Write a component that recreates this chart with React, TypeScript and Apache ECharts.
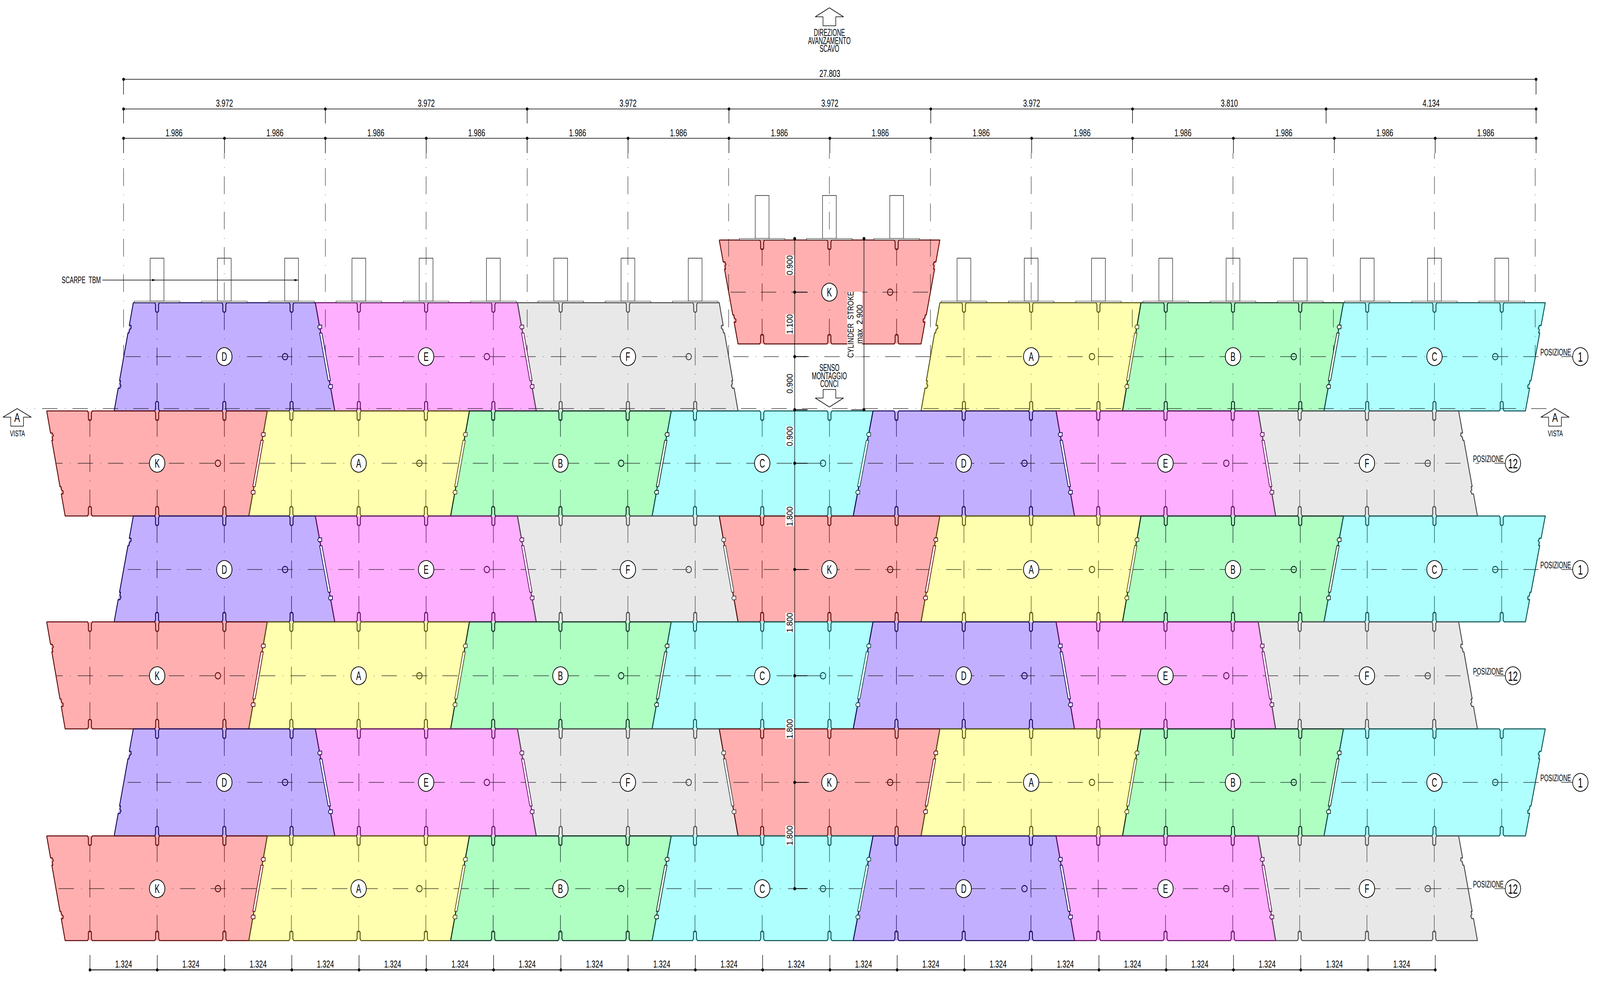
import React, { useEffect, useRef } from "react";
import * as echarts from "echarts";

const PAGE_W = 4765;
const PAGE_H = 2514;
const PX_PER_METRE = 151.3;
const DIM_ORIGIN = 368;
const BOTTOM_ORIGIN = 268;

// dimension chains (metres)
const overallDim = ["27.803"];
const segmentDims = ["3.972", "3.972", "3.972", "3.972", "3.972", "3.810", "4.134"];
const halfDims = ["1.986", "1.986", "1.986", "1.986", "1.986", "1.986", "1.986", "1.986", "1.986", "1.986", "1.986", "1.986", "1.986", "1.986"];
const bottomDims = ["1.324", "1.324", "1.324", "1.324", "1.324", "1.324", "1.324", "1.324", "1.324", "1.324", "1.324", "1.324", "1.324", "1.324", "1.324", "1.324", "1.324", "1.324", "1.324", "1.324"];

// rows of the ring stack, drawing units
const rowTops = [775, 1052, 1321, 1592, 1866, 2140];
const rowCenters = [913, 1186, 1458, 1730, 2003, 2275];
const rowBottoms = [1052, 1321, 1592, 1866, 2140, 2408];
const rowDashPhase = [668, 1069, 668, 1069, 668, 288];
const keyRaised = { top: 614.5, center: 748, bottom: 880.5 };

// segments
const posOneLetters = ["D", "E", "F", "K", "A", "B", "C"];
const posOneCenters = [668, 1269, 1870, 2470, 3071, 3672, 4272];
const posOneTopJoints = [397, 939, 1541, 2142, 2799, 3398, 4001, 4602];
const posOneBottomJoints = [340, 997, 1597, 2198, 2743, 3343, 3943, 4543];
const posTwelveLetters = ["K", "A", "B", "C", "D", "E", "F"];
const posTwelveCenters = [468, 1068, 1669, 2270, 2870, 3471, 4071];
const posTwelveTopJoints = [139, 796, 1398, 1999, 2600, 3145, 3747, 4344];
const posTwelveBottomJoints = [194, 741, 1342, 1942, 2541, 3200, 3799, 4400];
const ribOffset = 200.3;
const keyHoleOffset = 181;

const jointGuides = [368, 969, 1570, 2170, 2771, 3372, 3971, 4572];
const centreGuides = [668, 1269, 1870, 2470, 3071, 3672, 4272];
const strokeDimDots = [611, 748, 913, 1049, 1186, 1458, 1730, 2003, 2275];
const strokeLabels: [string, number][] = [
  ["0.900", 679], ["1.100", 830], ["0.900", 982], ["0.900", 1117],
  ["1.800", 1322], ["1.800", 1594], ["1.800", 1866], ["1.800", 2139],
];

const FILL: Record<string, string> = { K: "#FFAFAF", A: "#FFFFAF", B: "#AFFFC3", C: "#AFFFFF", D: "#C3AFFF", E: "#FFAFFF", F: "#E8E8E8" };
const DARK: Record<string, string> = { K: "#5E0606", A: "#4E4E00", B: "#06261A", C: "#064E4E", D: "#10065A", E: "#5E065E", F: "#444444" };
const FONT = '"Liberation Sans",Arial,sans-serif';
const DASH = [45.5, 22, 1.5, 21.5];
const PERIOD = 90.5;

type Pt = [number, number];
type Spec = any;

const mod = (a: number, b: number) => ((a % b) + b) % b;
const centreDashOffset = (start: number, mid: number) => mod(22.75 + (start - mid), PERIOD);
const dotOffset = (start: number, dot: number) => mod(67.5 + (start - dot), PERIOD);

const fills: Spec[] = [];
const lines: Spec[] = [];
const outlines: Spec[] = [];
const overlays: Spec[] = [];
const tops: Spec[] = [];

const poly = (pts: Pt[], fill: string, stroke: string, lw: number): Spec => ({ t: "polygon", pts, fill, stroke, lw });
const pline = (pts: Pt[], stroke: string, lw: number, dash?: number[], offset?: number): Spec => ({ t: "polyline", pts, stroke, lw, dash, offset });
const circle = (c: Pt, r: number, fill: string, stroke: string, lw: number): Spec => ({ t: "circle", c, r, fill, stroke, lw });
const text = (at: Pt, s: string, size: number, o: any = {}): Spec => ({ t: "text", at, s, size, ...o });

function topNotch(r: number, y: number, d = 1): Pt[] {
  return [[r - 7, y], [r - 4.5, y + 5 * d], [r - 4.5, y + 21 * d], [r - 2.5, y + 24 * d], [r + 2.5, y + 24 * d], [r + 4.5, y + 21 * d], [r + 4.5, y + 5 * d], [r + 7, y]];
}

function sidePoints(xt: number, xb: number, yt: number, yb: number, s: number): Pt[] {
  const P = (t: number, o = 0): Pt => [xt + (xb - xt) * t + s * o, yt + (yb - yt) * t];
  return [P(0.21), P(0.21, 5), P(0.235, 7), P(0.25, 3), P(0.28, 3), P(0.28), P(0.72), P(0.72, 3), P(0.75, 3), P(0.765, 7), P(0.79, 5), P(0.79)];
}

function addSegment(letter: string, cx: number, y: { top: number; center: number; bottom: number }, tl: number, tr: number, bl: number, br: number, leftOuter: boolean, rightOuter: boolean, rightJoint: boolean) {
  const dark = DARK[letter];
  const ribs = [cx - ribOffset, cx, cx + ribOffset];
  fills.push(poly([[tl, y.top], [tr, y.top], [br, y.bottom], [bl, y.bottom]], FILL[letter], "none", 0));
  ribs.forEach((r) => lines.push(pline([[r, y.top + 20], [r, y.bottom - 20]], dark, 1.5, DASH, centreDashOffset(y.top + 20, y.center))));
  const pts: Pt[] = [[tl, y.top]];
  ribs.forEach((r) => pts.push(...topNotch(r, y.top)));
  pts.push([tr, y.top]);
  if (rightOuter) pts.push(...sidePoints(tr, br, y.top, y.bottom, -1));
  pts.push([br, y.bottom]);
  [...ribs].reverse().forEach((r) => pts.push(...topNotch(r, y.bottom, -1).reverse()));
  pts.push([bl, y.bottom]);
  if (leftOuter) pts.push(...sidePoints(tl, bl, y.top, y.bottom, 1).reverse());
  pts.push([tl, y.top]);
  outlines.push(pline(pts, dark, 2.6));
  if (rightJoint) {
    const P = (t: number, o = 0): Pt => [tr + (br - tr) * t + o, y.top + (y.bottom - y.top) * t];
    overlays.push(poly([P(0.28, -3.5), P(0.28, 3.5), P(0.72, 3.5), P(0.72, -3.5)], "#FFFFFF", dark, 2));
    [0.225, 0.775].forEach((t) => {
      const c = P(t);
      overlays.push(poly([[c[0] - 6, c[1]], [c[0] - 3, c[1] - 5], [c[0] + 6, c[1] - 5], [c[0] + 6, c[1] + 4], [c[0] - 3, c[1] + 5]], "#FFFFFF", dark, 2));
    });
  }
  tops.push(circle([cx, y.center], 23, "#FFFFFF", "#000000", 2.2));
  tops.push(text([cx, y.center], letter, 31, { sx: 0.72 }));
  overlays.push(circle([cx + keyHoleOffset, y.center], 8, "none", dark, 2.4));
}

function hline(y: number, from: number, to: number, phase: number) {
  const off = mod(22.75 + (from - phase), PERIOD);
  lines.push(pline([[from, y], [to, y]], "rgba(0,0,0,0.78)", 1.5, DASH, off));
}

function vGuide(x: number, yEnd: number, dotY: number) {
  lines.push(pline([[x, 392], [x, yEnd]], "rgba(0,0,0,0.8)", 1.4, DASH, dotOffset(392, dotY)));
}

function arrow(apex: Pt, dir: number, fill = "#FFFFFF") {
  const [x, y] = apex;
  overlays.push(poly([[x, y], [x + 42, y + dir * 23], [x + 19, y + dir * 23], [x + 19, y + dir * 46], [x - 19, y + dir * 46], [x - 19, y + dir * 23], [x - 42, y + dir * 23]], fill, "#000000", 1.6));
}

function buildDrawing() {
  rowCenters.forEach((yc, i) => {
    const y = { top: rowTops[i], center: yc, bottom: rowBottoms[i] };
    const posOne = i % 2 === 0;
    const letters = posOne ? posOneLetters : posTwelveLetters;
    const centers = posOne ? posOneCenters : posTwelveCenters;
    const T = posOne ? posOneTopJoints : posTwelveTopJoints;
    const B = posOne ? posOneBottomJoints : posTwelveBottomJoints;
    letters.forEach((l, k) => {
      const raisedKey = i === 0 && l === "K";
      const segY = raisedKey ? keyRaised : y;
      const leftOuter = k === 0 || raisedKey || (i === 0 && letters[k - 1] === "K");
      const rightOuter = k === 6 || raisedKey || (i === 0 && letters[k + 1] === "K");
      addSegment(l, centers[k], segY, T[k], T[k + 1], B[k], B[k + 1], leftOuter, rightOuter, !rightOuter);
    });
    if (posOne) {
      hline(yc, i === 0 ? DIM_ORIGIN : 380, 4606, rowDashPhase[i]);
      lines.push(pline([[4650, yc], [4684, yc]], "#000000", 1.3));
      tops.push(text([4633, yc - 11], "POSIZIONE", 23, { sx: 0.73 }));
      tops.push(circle([4706.5, yc], 23, "#FFFFFF", "#000000", 2));
      tops.push(text([4706.5, yc], "1", 35, { sx: 0.74 }));
    } else {
      hline(yc, 168, 4405, rowDashPhase[i]);
      lines.push(pline([[4451, yc], [4483, yc]], "#000000", 1.3));
      tops.push(text([4432.5, yc - 11], "POSIZIONE", 23, { sx: 0.73 }));
      tops.push(circle([4505.7, yc], 23, "#FFFFFF", "#000000", 2));
      tops.push(text([4505.7, yc], "12", 35, { sx: 0.74 }));
    }
  });
  hline(keyRaised.center, 2170, 2771, 2470);

  // section line A-A
  hline(1046, 80, 4632, 4040);

  // thrust shoes
  const shoeRibs = posOneCenters.flatMap((c) => [c - ribOffset, c, c + ribOffset]);
  shoeRibs.forEach((r, idx) => {
    const isKey = idx >= 9 && idx < 12;
    const yBase = isKey ? keyRaised.top : rowTops[0];
    overlays.push(poly([[r - 20.5, yBase - 114], [r + 20.5, yBase - 114], [r + 20.5, yBase - 4], [r - 20.5, yBase - 4]], "none", "#1a1a1a", 1.4));
    overlays.push(poly([[r - 68, yBase - 4], [r + 68, yBase - 4], [r + 68, yBase - 0.5], [r - 68, yBase - 0.5]], "#FFFFFF", "#1a1a1a", 1.2));
  });

  jointGuides.forEach((x) => vGuide(x, 913, 407.6));
  centreGuides.forEach((x) => vGuide(x, x === 2470 ? 612 : 772, 428.6));

  const dimY = [203, 279, 354];
  const extEnd = [242, 316, 392];
  const chain = (labels: string[], level: number, labelY: number) => {
    let cur = DIM_ORIGIN;
    const nodes = [cur];
    labels.forEach((v) => {
      const next = cur + parseFloat(v) * PX_PER_METRE;
      tops.push(text([(cur + next) / 2, labelY], v, 26, { sx: 0.78 }));
      cur = next;
      nodes.push(cur);
    });
    overlays.push(pline([[nodes[0], dimY[level]], [cur, dimY[level]]], "#000000", 1.6));
    nodes.forEach((x) => {
      overlays.push(pline([[x, dimY[level]], [x, extEnd[level]]], "#000000", 1.6));
      overlays.push(circle([x, dimY[level]], 4, "#000000", "none", 0));
    });
  };
  chain(overallDim, 0, 188);
  chain(segmentDims, 1, 264);
  chain(halfDims, 2, 340);

  let bx = BOTTOM_ORIGIN;
  const bottomNodes = [bx];
  bottomDims.forEach((v) => {
    const next = bx + parseFloat(v) * PX_PER_METRE;
    tops.push(text([(bx + next) / 2, 2468], v, 26, { sx: 0.78 }));
    bx = next;
    bottomNodes.push(bx);
  });
  overlays.push(pline([[BOTTOM_ORIGIN, 2483], [bx, 2483]], "#000000", 1.8));
  bottomNodes.forEach((x) => {
    overlays.push(pline([[x, 2445], [x, 2483]], "#000000", 1.5));
    overlays.push(circle([x, 2483], 4, "#000000", "none", 0));
  });

  overlays.push(pline([[2366.7, 611], [2366.7, 2275]], "rgba(0,0,0,0.78)", 2));
  strokeDimDots.forEach((y) => {
    overlays.push(circle([2366.7, y], 4.2, "#000000", "none", 0));
    if (y !== 611) overlays.push(pline([[2366.7, y], [2405, y]], "#000000", 1.8));
  });
  strokeLabels.forEach(([v, y]) => tops.push(text([2352, y], v, 26, { rot: Math.PI / 2, bg: "#FFFFFF", sx: 0.78 })));
  overlays.push(poly([[2523, 747], [2568, 747], [2568, 913], [2523, 913]], "#FFFFFF", "none", 0));
  overlays.push(pline([[2573, 611], [2573, 1049]], "rgba(0,0,0,0.78)", 2));
  overlays.push(pline([[2535, 1049], [2573, 1049]], "#000000", 1.6));
  [611, 1049].forEach((y) => overlays.push(circle([2573, y], 4.2, "#000000", "none", 0)));
  tops.push(text([2533, 831], "CYLINDER  STROKE", 25, { rot: Math.PI / 2, sx: 0.7 }));
  tops.push(text([2560, 830], "max  2.900", 25, { rot: Math.PI / 2, sx: 0.81 }));

  arrow([2470, 20], 1);
  ["DIREZIONE", "AVANZAMENTO", "SCAVO"].forEach((s, i) => tops.push(text([2470, 83 + i * 20.4], s, 25, { sx: 0.68 })));
  ["SENSO", "MONTAGGIO", "CONCI"].forEach((s, i) => tops.push(text([2470, 941 + i * 20.4], s, 25, { sx: 0.68 })));
  overlays.push(poly([[2470, 1042], [2512, 1019], [2489, 1019], [2489, 997], [2451.5, 997], [2451.5, 1019], [2428, 1019]], "#FFFFFF", "#000000", 1.6));
  [51, 4631].forEach((x) => {
    overlays.push(poly([[x, 1046], [x + 42, 1068], [x + 19, 1068], [x + 19, 1091], [x - 19, 1091], [x - 19, 1068], [x - 42, 1068]], "#FFFFFF", "#000000", 1.6));
    tops.push(text([x, 1069], "A", 32, { sx: 0.8 }));
    tops.push(text([x + 1, 1109], "VISTA", 22, { sx: 0.72 }));
  });

  tops.push(text([242, 717], "SCARPE  TBM", 24, { sx: 0.72 }));
  overlays.push(pline([[305, 717], [888, 717]], "#000000", 1.4));
  [464, 888].forEach((x) => overlays.push(poly([[x, 717], [x - 11, 714], [x - 11, 720]], "#000000", "none", 0)));
}

buildDrawing();

function render(specs: Spec[]) {
  return (params: any, api: any) => {
    const s = specs[params.dataIndex];
    if (s.t === "polygon" || s.t === "polyline") {
      return {
        type: s.t,
        silent: true,
        shape: { points: s.pts.map((p: Pt) => api.coord(p)) },
        style: {
          fill: s.t === "polyline" ? "none" : s.fill,
          stroke: s.stroke,
          lineWidth: s.lw,
          lineDash: s.dash,
          lineDashOffset: s.offset ?? 0,
          lineJoin: "round",
        },
      };
    }
    if (s.t === "circle") {
      const c = api.coord(s.c);
      return { type: "circle", silent: true, shape: { cx: c[0], cy: c[1], r: s.r }, style: { fill: s.fill, stroke: s.stroke, lineWidth: s.lw } };
    }
    const c = api.coord(s.at);
    return {
      type: "text",
      silent: true,
      x: c[0],
      y: c[1],
      rotation: s.rot ?? 0,
      scaleX: s.sx ?? 1,
      style: {
        text: s.s,
        fontSize: s.size,
        fontFamily: FONT,
        fill: "#000000",
        align: "center",
        verticalAlign: "middle",
        backgroundColor: s.bg,
      },
    };
  };
}

const layer = (specs: Spec[], z: number) => ({
  type: "custom",
  coordinateSystem: "cartesian2d",
  z,
  clip: false,
  silent: true,
  progressive: 0,
  renderItem: render(specs),
  data: specs.map((_, i) => [i, 0]),
});

export default function App() {
  const ref = useRef<HTMLDivElement>(null);
  // The window may be narrower than the drawing: fit the whole sheet into it.
  const fitX = Math.min(1, window.innerWidth / PAGE_W);
  const fitY = Math.min(1, window.innerHeight / PAGE_H);
  useEffect(() => {
    document.body.style.margin = "0";
    document.documentElement.style.overflow = "hidden";
    const chart = echarts.init(ref.current!, undefined, { renderer: "svg" });
    chart.setOption({
      animation: false,
      backgroundColor: "#FFFFFF",
      tooltip: { show: false },
      grid: { left: 0, right: 0, top: 0, bottom: 0, containLabel: false },
      xAxis: { type: "value", min: 0, max: PAGE_W, show: false },
      yAxis: { type: "value", min: 0, max: PAGE_H, inverse: true, show: false },
      series: [layer(fills, 1), layer(lines, 2), layer(outlines, 3), layer(overlays, 4), layer(tops, 5)],
    });
    return () => chart.dispose();
  }, []);
  return (
    <div
      ref={ref}
      style={{ position: "fixed", left: 0, top: 0, width: PAGE_W, height: PAGE_H, transform: `scale(${fitX}, ${fitY})`, transformOrigin: "0 0" }}
    />
  );
}
